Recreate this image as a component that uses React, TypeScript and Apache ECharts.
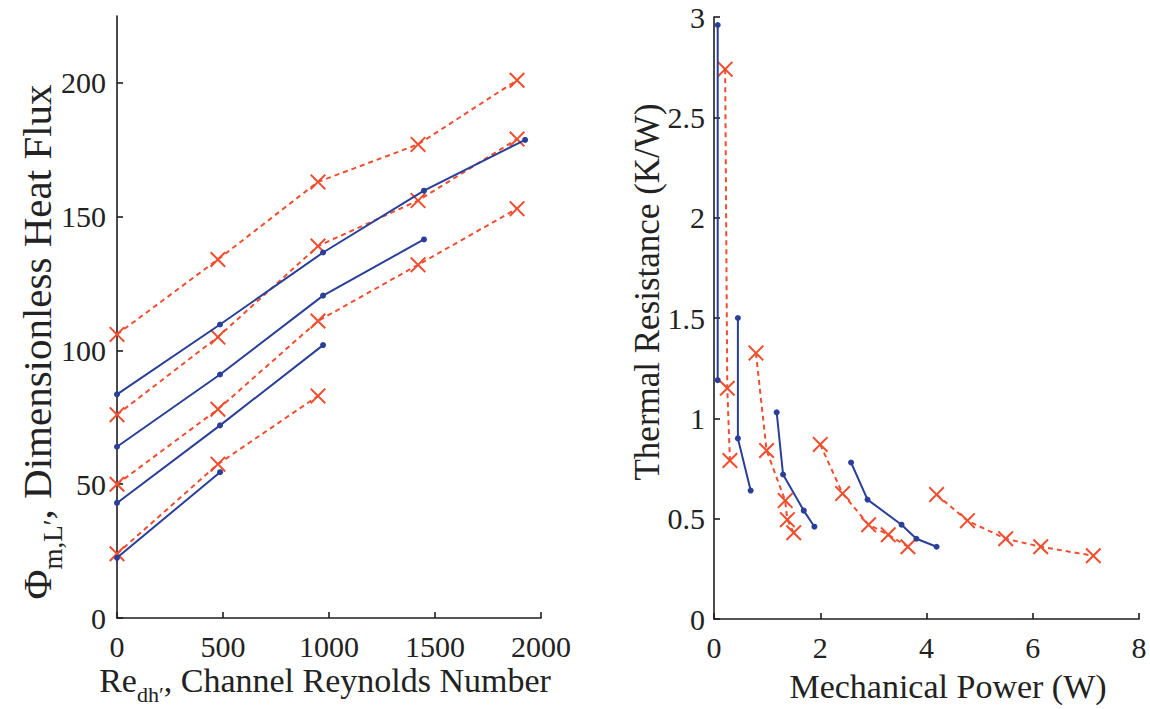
import React, { useEffect, useRef } from "react";
import * as echarts from "echarts";

// ---------- tick labels ----------
const reTicks = [0, 500, 1000, 1500, 2000];
const fluxTicks = [0, 50, 100, 150, 200];
const powerTicks = [0, 2, 4, 6, 8];
const resistTicks = [0, 0.5, 1, 1.5, 2, 2.5, 3];

// ---------- left panel: Re_dh' vs dimensionless heat flux ----------
const reRed = [0, 476, 948, 1420, 1887];
const reBlue = [0, 486, 972, 1448, 1925];
const fluxRed1 = [106, 134, 163, 177, 201];
const fluxRed2 = [76, 105, 139, 156, 179];
const fluxRed3 = [50, 78, 111, 132, 153];
const fluxRed4 = [24, 57.5, 83];
const fluxBlue1 = [83.6, 109.7, 136.6, 159.7, 178.7];
const fluxBlue2 = [64, 91, 120.5, 141.5];
const fluxBlue3 = [43, 72, 102];
const fluxBlue4 = [22.5, 54.5];

// ---------- right panel: mechanical power vs thermal resistance ----------
const powerBlueA = [0.07, 0.07];
const resistBlueA = [2.96, 1.19];
const powerBlueB = [0.45, 0.45, 0.69];
const resistBlueB = [1.5, 0.9, 0.64];
const powerBlueC = [1.18, 1.3, 1.69, 1.89];
const resistBlueC = [1.03, 0.72, 0.54, 0.46];
const powerBlueD = [2.58, 2.89, 3.53, 3.81, 4.19];
const resistBlueD = [0.78, 0.595, 0.47, 0.4, 0.36];

const powerRedA = [0.21, 0.25, 0.3];
const resistRedA = [2.74, 1.15, 0.79];
const powerRedB = [0.79, 0.99, 1.34, 1.38, 1.5];
const resistRedB = [1.325, 0.84, 0.59, 0.495, 0.43];
const powerRedC = [2.0, 2.42, 2.91, 3.28, 3.65];
const resistRedC = [0.87, 0.625, 0.47, 0.42, 0.36];
const powerRedD = [4.19, 4.77, 5.49, 6.15, 7.14];
const resistRedD = [0.62, 0.49, 0.4, 0.36, 0.315];

const BLUE = "#2a3f98";
const RED = "#f04e2f";
const AXIS = "#1e1e1e";
const TEXT = "#222222";
const FONT = "'Liberation Serif', 'Times New Roman', serif";
const X_SYMBOL =
  "path://M0,0.9 L0.9,0 L5,4.1 L9.1,0 L10,0.9 L5.9,5 L10,9.1 L9.1,10 L5,5.9 L0.9,10 L0,9.1 L4.1,5 Z";

const zip = (xs: number[], ys: number[]) => ys.map((y, i) => [xs[i], y]);

const blueSeries = (xs: number[], ys: number[], gi: number) => ({
  type: "line",
  xAxisIndex: gi,
  yAxisIndex: gi,
  data: zip(xs, ys),
  symbol: "circle",
  symbolSize: 6,
  lineStyle: { color: BLUE, width: 2 },
  itemStyle: { color: BLUE },
  z: 3,
});

const redSeries = (xs: number[], ys: number[], gi: number) => ({
  type: "line",
  xAxisIndex: gi,
  yAxisIndex: gi,
  data: zip(xs, ys),
  symbol: X_SYMBOL,
  symbolSize: 16,
  lineStyle: { color: RED, width: 2, type: [5, 4] },
  itemStyle: { color: RED },
  z: 2,
});

const axisCommon = {
  axisLine: { show: true, onZero: false, lineStyle: { color: AXIS, width: 1.6 } },
  axisTick: { show: true, inside: true, length: 6, lineStyle: { color: AXIS, width: 1.6 } },
  splitLine: { show: false },
};

const plain = (v: number) => String(v);
const labelStyle = { fontFamily: FONT, fontSize: 30, color: TEXT, formatter: plain };

export default function App() {
  const ref = useRef<HTMLDivElement>(null);
  useEffect(() => {
    if (!ref.current) return;
    const chart = echarts.init(ref.current, undefined, { renderer: "svg" });
    const option: any = {
      animation: false,
      backgroundColor: "#ffffff",
      grid: [
        { left: 117, right: 1150 - 541, top: 16, bottom: 709 - 618 },
        { left: 714, right: 1150 - 1139, top: 17, bottom: 709 - 619 },
      ],
      xAxis: [
        {
          gridIndex: 0,
          type: "value",
          min: 0,
          max: 2000,
          interval: 500,
          ...axisCommon,
          axisLabel: { ...labelStyle, margin: 13, customValues: reTicks },
        },
        {
          gridIndex: 1,
          type: "value",
          min: 0,
          max: 8,
          interval: 2,
          ...axisCommon,
          axisLabel: { ...labelStyle, margin: 13, customValues: powerTicks },
        },
      ],
      yAxis: [
        {
          gridIndex: 0,
          type: "value",
          min: 0,
          max: 225,
          ...axisCommon,
          axisTick: { ...axisCommon.axisTick, customValues: fluxTicks },
          axisLabel: { ...labelStyle, margin: 11, customValues: fluxTicks },
        },
        {
          gridIndex: 1,
          type: "value",
          min: 0,
          max: 3,
          interval: 0.5,
          ...axisCommon,
          axisTick: { ...axisCommon.axisTick, customValues: resistTicks },
          axisLabel: { ...labelStyle, margin: 9, customValues: resistTicks },
        },
      ],
      series: [
        redSeries(reRed, fluxRed1, 0),
        redSeries(reRed, fluxRed2, 0),
        redSeries(reRed, fluxRed3, 0),
        redSeries(reRed, fluxRed4, 0),
        blueSeries(reBlue, fluxBlue1, 0),
        blueSeries(reBlue, fluxBlue2, 0),
        blueSeries(reBlue, fluxBlue3, 0),
        blueSeries(reBlue, fluxBlue4, 0),
        redSeries(powerRedA, resistRedA, 1),
        redSeries(powerRedB, resistRedB, 1),
        redSeries(powerRedC, resistRedC, 1),
        redSeries(powerRedD, resistRedD, 1),
        blueSeries(powerBlueA, resistBlueA, 1),
        blueSeries(powerBlueB, resistBlueB, 1),
        blueSeries(powerBlueC, resistBlueC, 1),
        blueSeries(powerBlueD, resistBlueD, 1),
      ],
      graphic: [
        {
          type: "text",
          x: 325,
          y: 680,
          style: {
            text: "{n|Re}{s|dh′}{n|, Channel Reynolds Number}",
            align: "center",
            verticalAlign: "middle",
            fill: TEXT,
            rich: {
              n: { fontFamily: FONT, fontSize: 34, fill: TEXT },
              s: { fontFamily: FONT, fontSize: 22, fill: TEXT, padding: [28, 0, 0, 0] },
            },
          },
        },
        {
          type: "text",
          x: 37,
          y: 342,
          rotation: Math.PI / 2,
          style: {
            text: "{n|Φ}{s|m,L′}{n|, Dimensionless Heat Flux}",
            align: "center",
            verticalAlign: "middle",
            fill: TEXT,
            rich: {
              n: { fontFamily: FONT, fontSize: 41, fill: TEXT },
              s: { fontFamily: FONT, fontSize: 27, fill: TEXT, padding: [32, 0, 0, 0] },
            },
          },
        },
        {
          type: "text",
          x: 948,
          y: 686,
          style: {
            text: "Mechanical Power (W)",
            align: "center",
            verticalAlign: "middle",
            fill: TEXT,
            fontFamily: FONT,
            fontSize: 34,
          },
        },
        {
          type: "text",
          x: 647,
          y: 292,
          rotation: Math.PI / 2,
          style: {
            text: "Thermal Resistance (K/W)",
            align: "center",
            verticalAlign: "middle",
            fill: TEXT,
            fontFamily: FONT,
            fontSize: 35,
          },
        },
      ],
    };
    chart.setOption(option);
    return () => chart.dispose();
  }, []);
  return (
    <div
      ref={ref}
      style={{ position: "fixed", left: 0, top: 0, width: 1150, height: 709, background: "#fff" }}
    />
  );
}
